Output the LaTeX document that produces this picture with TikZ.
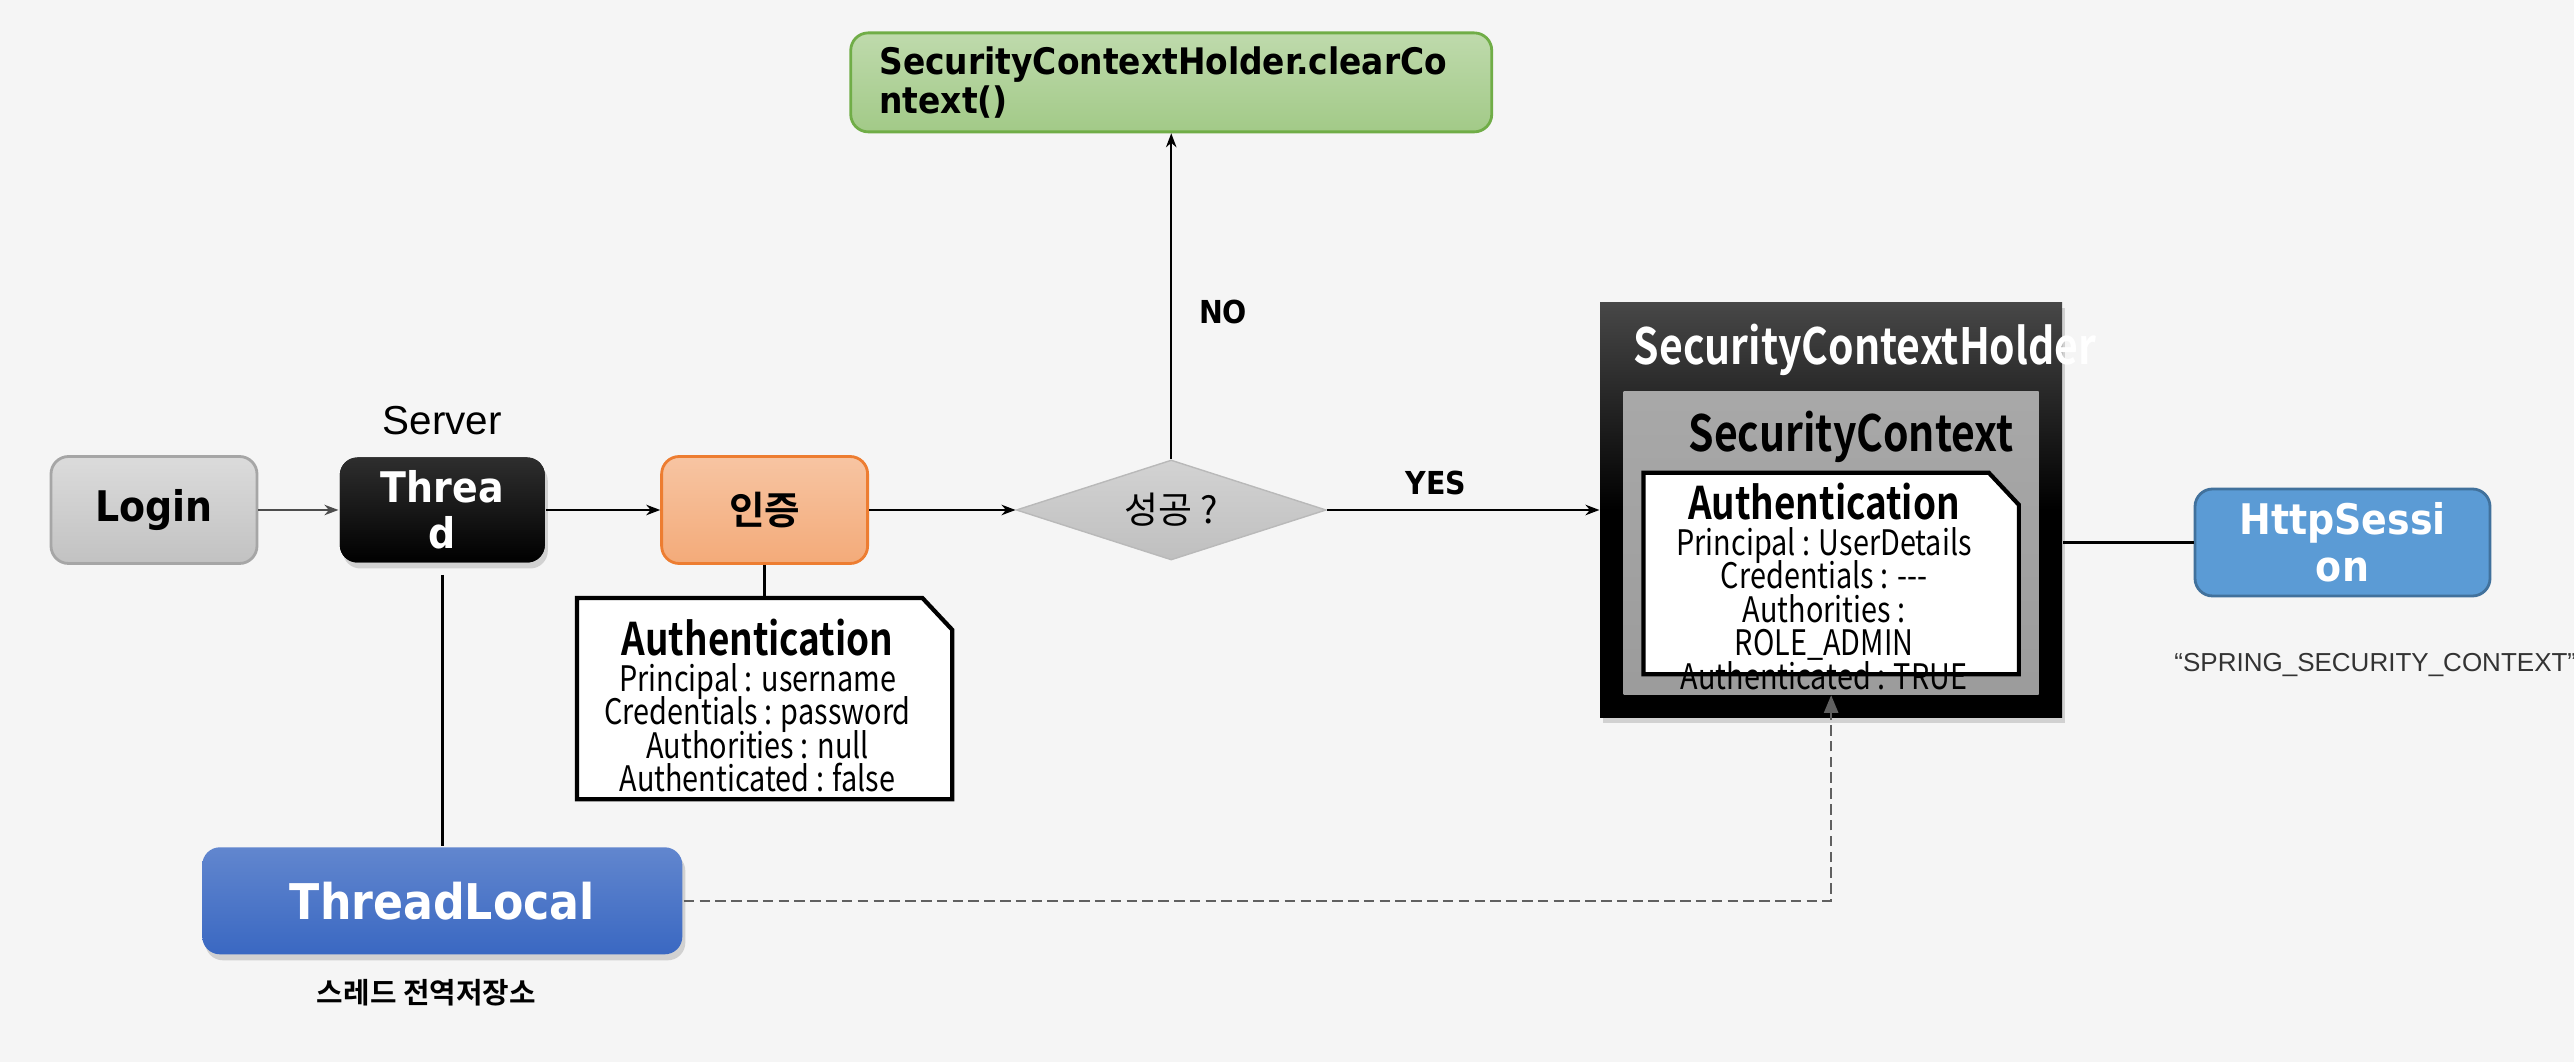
\documentclass[tikz,border=0pt]{standalone}
\usepackage{fontspec}
\setmainfont{Liberation Sans}
\newfontfamily\krfont{Noto Sans CJK KR}[BoldFont={Noto Sans CJK KR Bold}]
\newfontfamily\krcond{Noto Sans CJK KR}[BoldFont={Noto Sans CJK KR Bold}, FakeStretch=0.82]
\newfontfamily\labelfont{DejaVu Sans Condensed}[BoldFont={DejaVu Sans Condensed Bold}]
\usepackage{tikz}
\usetikzlibrary{arrows.meta, positioning, calc, shapes.geometric, shadows}
\usepackage{xcolor}
\definecolor{bggray}{HTML}{F5F5F5}
\definecolor{loginline}{HTML}{A6A6A6}
\definecolor{authorange}{HTML}{ED7D31}
\definecolor{clrgreen}{HTML}{70AD47}
\definecolor{tlblue}{HTML}{3A68C2}
\definecolor{httpblue}{HTML}{5B9BD5}
\definecolor{httpline}{HTML}{41719C}

\begin{document}
\begin{tikzpicture}[
  flow/.style  = {rounded corners=5pt, minimum width=2.06cm, minimum height=1.07cm,
                  align=center, line width=0.8pt,
                  font=\labelfont\bfseries\fontsize{12}{13}\selectfont},
  shade/.style = {drop shadow={opacity=0.3, shadow xshift=0.03cm, shadow yshift=-0.06cm}},
  notebox/.style = {minimum width=3.74cm, minimum height=2cm, inner sep=0pt},
  notedraw/.style = {draw, line width=1.2pt, fill=white},
  notetxt/.style = {align=center, inner sep=0pt,
                    font={\krcond\fontsize{10}{9.5}\selectfont\lineskiplimit-20pt\relax}},
  tag/.style   = {font=\labelfont\bfseries\fontsize{9}{10}\selectfont},
  arr/.style   = {-{Stealth[length=4pt]}, line width=0.5pt},
  link/.style  = {line width=0.9pt},
]
% ── Canvas ───────────────────────────────────────────────────────────────────
\fill[bggray] (0,0) rectangle (25.74,10.62);
\useasboundingbox (0,0) rectangle (25.74,10.62);

% ── Main horizontal path ─────────────────────────────────────────────────────
\node[flow, draw=loginline, top color=gray!28, bottom color=gray!48] at (1.54,5.52) (login) {Login};
\node[flow, shade, fill=black, text=white, minimum width=2.05cm, minimum height=1.05cm,
      top color=black!82, bottom color=black, right=0.8cm of login] (thread) {Threa\\d};
\node[flow, draw=authorange, top color=authorange!45, bottom color=authorange!65,
      font=\krfont\bfseries\fontsize{11}{13}\selectfont, right=1.14cm of thread] (authn) {인증};
\node[diamond, draw=gray!55, top color=gray!35, bottom color=gray!50, inner sep=0pt,
      minimum width=3.1cm, minimum height=1.0cm, aspect=3.1,
      font=\krfont\fontsize{10.5}{12}\selectfont, right=1.465cm of authn] (succ) {성공 ?};

\node[above=0.36cm of thread.north, anchor=center, font=\fontsize{11.5}{13}\selectfont] (server) {Server};

\draw[arr, draw=black!70, line width=0.4pt] (login) -- (thread);
\draw[arr] (thread) -- (authn);
\draw[arr] (authn) -- (succ);

% ── Failure branch (above) ───────────────────────────────────────────────────
\node[flow, draw=clrgreen, top color=clrgreen!45, bottom color=clrgreen!65,
      minimum width=6.41cm, minimum height=0.99cm, align=left,
      font=\labelfont\bfseries\fontsize{10.4}{11}\selectfont,
      above=3.26cm of succ] (clear) {SecurityContextHolder.clearCo\hspace*{0.16cm}\\ntext()};
\draw[arr] (succ.north) -- (clear.south);
\node[tag] at (12.23,7.50) (no) {NO};

% ── Holder / context (right) ─────────────────────────────────────────────────
\node[shade, minimum width=4.62cm, minimum height=4.15cm, top color=black!72,
      bottom color=black, middle color=black, right=2.725cm of succ] (sch) {};
\node[below=0.89cm of sch.north, anchor=north, minimum width=4.15cm, minimum height=3.03cm,
      top color=gray!68, bottom color=gray!78] (sctx) {};
\node[text=white, font=\krcond\bfseries\fontsize{14.2}{15}\selectfont]
      at ($(sch.north)+(0.34,-0.48)$) (schlbl) {SecurityContextHolder};
\node[font=\krcond\bfseries\fontsize{14.2}{15}\selectfont]
      at ($(sctx.north)+(0.2,-0.46)$) (sctxlbl) {SecurityContext};
\node[notebox, below=0.82cm of sctx.north, anchor=north] (authR) {};

\draw[arr] (succ) -- (succ -| sch.west);
\node[tag] at (14.36,5.79) (yes) {YES};

\node[flow, draw=httpline, fill=httpblue, text=white, minimum width=2.95cm,
      font=\labelfont\bfseries\fontsize{12}{13.5}\selectfont] at (23.425,5.195) (http) {HttpSessi\\on};
\draw[link] (http.west) -- (http.west -| sch.east);
\node[anchor=west, text=black!80, font=\fontsize{7.4}{9}\selectfont] at (21.62,3.97) (spring)
  {“SPRING\_SECURITY\_CONTEXT”};

% ── Credentials note under 인증 ────────────────────────────────────────────
\node[notebox, below=0.33cm of authn] (authL) {};
\draw[link] (authn) -- (authL);

% note outlines, top right corner cut
\foreach \n in {authL, authR}
  \draw[notedraw] (\n.north west) -- ($(\n.north east)+(-0.3,0)$)
    -- ($(\n.north east)+(0,-0.32)$) -- (\n.south east) -- (\n.south west) -- cycle;

\node[notetxt] at ($(authL.center)+(-0.07,-0.07)$) (authLtxt)
  {{\bfseries\fontsize{12.8}{12}\selectfont Authentication}\\[0.6pt]
   Principal : username\\Credentials : password\\Authorities : null\\Authenticated : false};
\node[notetxt] at ($(authR.center)+(-0.07,-0.13)$) (authRtxt)
  {{\bfseries\fontsize{12.8}{12}\selectfont Authentication}\\[0.6pt]
   Principal : UserDetails\\Credentials : -{}-{}-\\Authorities :\\ROLE\_ADMIN\\Authenticated : TRUE};

% ── Thread local storage (below) ─────────────────────────────────────────────
\node[flow, shade, minimum width=4.8cm, top color=tlblue!80, bottom color=tlblue,
      text=white, font=\labelfont\bfseries\fontsize{14}{15}\selectfont,
      below=2.82cm of thread] (tlocal) {ThreadLocal};
\node[font=\krfont\bfseries\fontsize{8.2}{10}\selectfont, below=0.11cm of tlocal, xshift=-0.16cm] (tlbl) {스레드 전역저장소};
\draw[link, shorten <=0.11cm] (thread) -- (tlocal);

\draw[-{Triangle[length=5pt, width=4pt, fill=gray!75!black]}, draw=gray!75!black,
      line width=0.6pt, dash pattern=on 3pt off 1.5pt] (tlocal.east) -| (sctx.south);
\end{tikzpicture}
\end{document}
